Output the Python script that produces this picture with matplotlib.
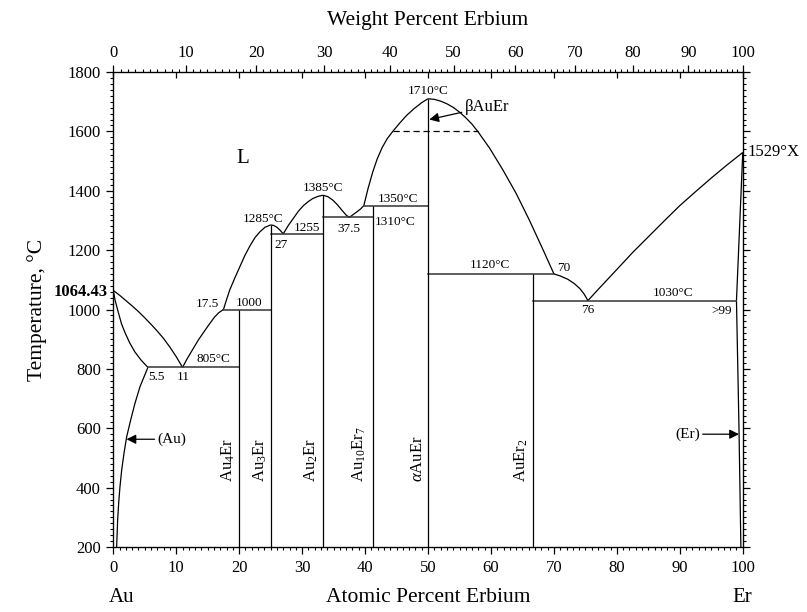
import matplotlib
matplotlib.use('Agg')
import matplotlib.pyplot as plt
from matplotlib.ticker import MultipleLocator, FixedLocator
import numpy as np

plt.rcParams['font.family'] = ['Liberation Serif', 'DejaVu Serif']
plt.rcParams['mathtext.fontset'] = 'custom'
plt.rcParams['mathtext.rm'] = 'Liberation Serif'
plt.rcParams['mathtext.it'] = 'Liberation Serif:italic'
plt.rcParams['mathtext.bf'] = 'Liberation Serif:bold'

# ---------------- data (atomic % Er, temperature °C) ----------------
M_AU, M_ER = 196.967, 167.259

liq_au_x = [0, 1, 2, 3, 4, 5, 6, 7, 8, 9, 10, 11]
liq_au_T = [1064.43, 1048, 1030, 1012, 993, 972, 950, 927, 902, 873, 841, 805]
sol_au_x = [0, 0.3, 0.8, 1.3, 1.9, 2.6, 3.4, 4.4, 5.5]
sol_au_T = [1064.43, 1030, 990, 952, 920, 888, 858, 830, 805]
solv_au_x = [5.5, 4.24, 3.44, 2.76, 2.12, 1.70, 1.33, 1.06, 0.85, 0.69, 0.53]
solv_au_T = [805, 740, 684, 628, 571, 516, 459, 403, 347, 291, 200]
liq1_x = [11, 11.7, 12.4, 13.5, 14.6, 15.4, 16.1, 16.8, 17.5]
liq1_T = [805, 833, 858, 897, 931, 955, 975, 990, 1000]
liq2_x = [17.5, 18.0, 18.5, 19.3, 20.1, 20.9, 21.7, 22.5, 23.3, 24.1, 25]
liq2_T = [1000, 1034, 1066, 1106, 1144, 1182, 1214, 1242, 1262, 1277, 1285]
liq3_x = [25, 25.5, 26.0, 26.5, 27]
liq3_T = [1285, 1283, 1277, 1267, 1255]
liq4_x = [27, 27.8, 28.6, 29.4, 30.2, 31.0, 31.7, 32.5, 33.3]
liq4_T = [1255, 1283, 1307, 1331, 1350, 1364, 1374, 1381, 1385]
liq5_x = [33.3, 34.1, 34.9, 35.6, 36.3, 37.0, 37.5]
liq5_T = [1385, 1380, 1368, 1353, 1335, 1318, 1310]
liq6_x = [37.5, 38.1, 38.7, 39.3, 39.8]
liq6_T = [1310, 1320, 1329, 1339, 1350]
liq7_x = [39.8, 40.5, 41.2, 41.9, 42.7, 43.5, 44.4, 45.5, 46.6, 47.8, 49.0, 50]
liq7_T = [1350, 1410, 1462, 1506, 1545, 1575, 1600, 1628, 1654, 1677, 1697, 1710]
liq8_x = [50, 51, 52, 53, 54, 55, 56, 57, 57.9, 59.8, 61.9, 64.0, 66.1, 68.3, 70]
liq8_T = [1710, 1708, 1702, 1693, 1681, 1665, 1646, 1624, 1600, 1543, 1470,
          1391, 1301, 1200, 1120]
liq9_x = [70, 71, 72.2, 73.2, 74.1, 74.8, 75.4]
liq9_T = [1120, 1113, 1102, 1088, 1071, 1052, 1030]
liq10_x = [75.4, 77, 80, 82.5, 85, 87.5, 90, 92.5, 95, 97.5, 100]
liq10_T = [1030, 1067, 1135, 1192, 1245, 1298, 1350, 1397, 1443, 1487, 1529]
sol_er_x = [100, 99.0]
sol_er_T = [1529, 1030]
solv_er_x = [99.0, 99.4, 99.7]
solv_er_T = [1030, 600, 200]

# invariant (horizontal) lines: T, x_start, x_end
iso_T = [805, 1000, 1255, 1310, 1350, 1120, 1030]
iso_x0 = [5.5, 17.5, 25, 33.3, 39.8, 50, 66.7]
iso_x1 = [20, 25, 33.3, 41.2, 50, 70, 99.0]
# dashed beta/alpha transition
trans_T = 1600
trans_x = [44.4, 57.9]

# compounds: x, top temperature, label
comp_x = [20, 25, 33.3, 41.2, 50, 66.7]
comp_top = [1000, 1285, 1385, 1350, 1710, 1120]
comp_lbl = [r'Au$_4$Er', r'Au$_3$Er', r'Au$_2$Er', r'Au$_{10}$Er$_7$',
            r'$\alpha$AuEr', r'AuEr$_2$']
comp_lbl_x = [18.3, 23.3, 31.4, 39.1, 48.4, 64.8]

# annotations: text, x, T
ann_txt = ['1710°C', '1385°C', '1285°C', '1255', '27', '37.5', '1350°C',
           '1310°C', '1000', '17.5', '805°C', '5.5', '11', '1120°C', '70',
           '76', '1030°C', '>99']
ann_x = [50, 33.3, 23.8, 30.8, 26.7, 37.5, 45.2, 44.8, 21.6, 15.0, 15.9,
         6.9, 11.1, 59.8, 71.6, 75.4, 88.9, 96.7]
ann_T = [1735, 1408, 1304, 1273, 1219, 1270, 1372, 1296, 1021, 1018, 833,
         774, 774, 1150, 1141, 998, 1054, 996]

wt_ticks = [0, 10, 20, 30, 40, 50, 60, 70, 80, 90, 100]
at_ticks = [0, 10, 20, 30, 40, 50, 60, 70, 80, 90, 100]
T_ticks = [200, 400, 600, 800, 1000, 1200, 1400, 1600, 1800]


def wt_to_at(w):
    w = np.asarray(w, dtype=float)
    a = w / M_ER
    b = (100 - w) / M_AU
    return 100 * a / (a + b)


fig = plt.figure(figsize=(8.07, 6.12), dpi=100)
ax = fig.add_axes([0.1404, 0.1062, 0.7800, 0.7761])
ax.set_xlim(0, 100)
ax.set_ylim(200, 1800)

lw = 0.9
kw = dict(color='black', lw=lw, solid_capstyle='butt', solid_joinstyle='round')
for xs, ts in [(liq_au_x, liq_au_T), (sol_au_x, sol_au_T), (solv_au_x, solv_au_T),
               (liq1_x, liq1_T), (liq2_x, liq2_T), (liq3_x, liq3_T),
               (liq4_x, liq4_T), (liq5_x, liq5_T), (liq6_x, liq6_T),
               (liq7_x, liq7_T), (liq8_x, liq8_T), (liq9_x, liq9_T),
               (liq10_x, liq10_T), (sol_er_x, sol_er_T), (solv_er_x, solv_er_T)]:
    ax.plot(xs, ts, **kw)

for T, x0, x1 in zip(iso_T, iso_x0, iso_x1):
    ax.plot([x0, x1], [T, T], color='#333333', lw=1.1)
ax.plot(trans_x, [trans_T, trans_T], color='black', lw=lw, ls=(0, (5, 3)))

for x, top in zip(comp_x, comp_top):
    ax.plot([x, x], [200, top], **kw)
for lx, lbl in zip(comp_lbl_x, comp_lbl):
    ax.text(lx, 420, lbl, rotation=90, ha='center', va='bottom', fontsize=12)

for t, x, T in zip(ann_txt, ann_x, ann_T):
    ax.text(x, T, t, ha='center', va='center', fontsize=9.5)

ax.text(20.6, 1510, 'L', ha='center', va='center', fontsize=15)
ax.text(100.8, 1530, '1529°X', ha='left', va='center', fontsize=12, clip_on=False)
ax.text(-0.9, 1059, '1064.43', ha='right', va='center', fontsize=12,
        fontweight='bold', clip_on=False)

arrow = dict(arrowstyle='-|>', color='black', lw=0.9, mutation_scale=14,
             shrinkA=0, shrinkB=0)
ax.annotate('(Au)', xy=(2.1, 563), xytext=(7.0, 563), fontsize=11,
            ha='left', va='center', arrowprops=arrow)
ax.annotate('(Er)', xy=(99.4, 580), xytext=(93.2, 580), fontsize=11,
            ha='right', va='center', arrowprops=arrow)
ax.annotate('βAuEr', xy=(50.2, 1640), xytext=(55.8, 1683), fontsize=12,
            ha='left', va='center', arrowprops=arrow)

# axes ticks
ax.set_xticks(at_ticks)
ax.xaxis.set_minor_locator(MultipleLocator(1))
ax.set_yticks(T_ticks)
ax.yaxis.set_minor_locator(MultipleLocator(20))
ax.tick_params(axis='both', which='major', direction='out', length=5,
               width=0.9, labelsize=12, pad=4)
ax.tick_params(axis='both', which='minor', direction='out', length=2.5,
               width=0.8)
ax.tick_params(axis='y', which='both', right=True, left=True)
ax.tick_params(axis='x', which='both', top=False)
for s in ax.spines.values():
    s.set_linewidth(0.9)

# top axis: weight percent
ax2 = ax.twiny()
ax2.set_xlim(0, 100)
ax2.xaxis.set_major_locator(FixedLocator(wt_to_at(wt_ticks)))
ax2.set_xticklabels([str(w) for w in wt_ticks])
ax2.xaxis.set_minor_locator(FixedLocator(wt_to_at(np.arange(1, 100))))
ax2.tick_params(axis='x', which='major', direction='out', length=5,
                width=0.9, labelsize=12, pad=3)
ax2.tick_params(axis='x', which='minor', direction='out', length=2.5, width=0.8)

# inward atomic-percent ticks on the top spine
ax3 = ax.twiny()
ax3.set_xlim(0, 100)
ax3.set_xticks(at_ticks)
ax3.tick_params(axis='x', which='major', direction='in', length=4,
                width=0.9, labeltop=False)
for s in ax3.spines.values():
    s.set_visible(False)

fig.text(0.5 * (0.1404 + 0.9204), 1 - 20 / 612, 'Weight Percent Erbium',
         ha='center', va='center', fontsize=15.5)
fig.text(0.5 * (0.1404 + 0.9204), 1 - 598 / 612, 'Atomic Percent Erbium',
         ha='center', va='center', fontsize=15.5)
fig.text(122 / 807, 1 - 598 / 612, 'Au', ha='center', va='center', fontsize=15)
fig.text(742 / 807, 1 - 598 / 612, 'Er', ha='center', va='center', fontsize=15)
fig.text(37 / 807, 1 - 310 / 612, 'Temperature, °C', rotation=90,
         ha='center', va='center', fontsize=15.5)

fig.savefig('out.png', dpi=100)
